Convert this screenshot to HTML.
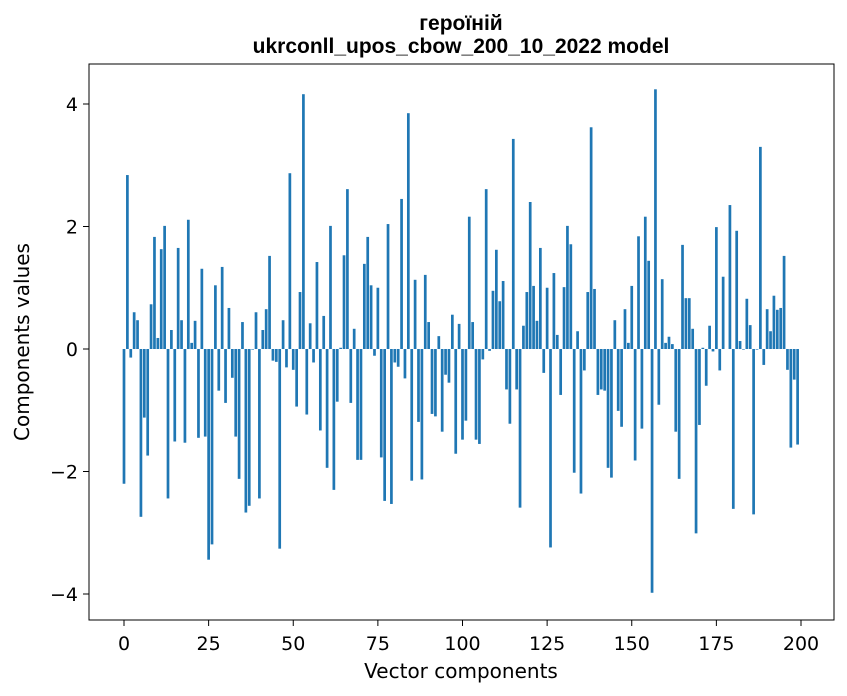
<!DOCTYPE html>
<html><head><meta charset="utf-8"><style>
html,body{margin:0;padding:0;background:#fff;}
svg{display:block;font-family:"DejaVu Sans","Liberation Sans",sans-serif;}
</style></head><body>
<svg id="chart" width="847" height="696" viewBox="0 0 847 696" xmlns="http://www.w3.org/2000/svg">
<rect x="0" y="0" width="847" height="696" fill="#fff"/>
<text x="461" y="30" text-anchor="middle" font-size="21" font-weight="bold" font-family="Liberation Sans, sans-serif">героїній</text>
<text x="461" y="53" text-anchor="middle" font-size="21" font-weight="bold" font-family="Liberation Sans, sans-serif">ukrconll_upos_cbow_200_10_2022 model</text>
<g id="bars"></g>
<g id="xaxis"></g>
<g id="yaxis"></g>
<rect x="89" y="64" width="745" height="556" fill="none" stroke="#000" stroke-width="1"/>
<text x="461" y="678" text-anchor="middle" font-size="20">Vector components</text>
<text transform="translate(29,342) rotate(-90)" text-anchor="middle" font-size="20">Components values</text>
</svg>
<script>
const values = [-2.20,2.84,-0.14,0.60,0.47,-2.74,-1.12,-1.74,0.73,1.83,
0.18,1.63,2.01,-2.44,0.31,-1.51,1.65,0.47,-1.53,2.11,
0.10,0.46,-1.45,1.31,-1.43,-3.44,-3.19,1.04,-0.68,1.34,
-0.88,0.67,-0.47,-1.43,-2.12,0.44,-2.67,-2.56,-0.01,0.60,
-2.44,0.31,0.65,1.52,-0.19,-0.21,-3.26,0.47,-0.30,2.87,
-0.34,-0.94,0.93,4.16,-1.07,0.42,-0.22,1.42,-1.33,0.54,
-1.94,2.01,-2.30,-0.86,0.02,1.53,2.61,-0.88,0.33,-1.81,
-1.81,1.39,1.83,1.04,-0.11,1.00,-1.77,-2.48,2.04,-2.53,
-0.22,-0.29,2.45,-0.48,3.85,-2.15,1.13,-1.19,-2.13,1.21,
0.44,-1.06,-1.10,0.21,-1.35,-0.42,-0.55,0.56,-1.71,0.41,
-1.48,-1.17,2.16,0.44,-1.48,-1.55,-0.17,2.61,-0.03,0.95,
1.62,0.78,1.11,-0.66,-1.22,3.43,-0.66,-2.59,0.38,0.93,
2.40,1.03,0.46,1.65,-0.39,1.00,-3.24,1.24,0.23,-0.75,
1.01,2.01,1.71,-2.02,0.29,-2.36,-0.35,0.93,3.62,0.98,
-0.75,-0.66,-0.68,-1.94,-2.10,0.47,-1.01,-1.27,0.65,0.10,
1.03,-1.82,1.84,-1.30,2.16,1.44,-3.98,4.24,-0.91,1.14,
0.10,0.20,0.08,-1.35,-2.12,1.70,0.83,0.83,0.33,-3.01,
-1.24,0.02,-0.60,0.38,-0.04,1.99,-0.35,1.18,0.00,2.35,
-2.61,1.93,0.13,-0.01,0.82,0.39,-2.70,-0.01,3.30,-0.26,
0.65,0.29,0.87,0.64,0.67,1.52,-0.34,-1.61,-0.50,-1.56];
const xTicks = [0,25,50,75,100,125,150,175,200];
const yTicks = [-4,-2,0,2,4];
const NS = "http://www.w3.org/2000/svg";
function xs(v){ return 124 + (801-124)*v/200; }
function ys(v){ return 349 - 61.25*v; }
const barsG = document.getElementById('bars');
const bw = 0.8*(xs(1)-xs(0));
values.forEach((v,i)=>{
  const r = document.createElementNS(NS,'rect');
  
  
  const y0 = ys(0), y1 = ys(v);
  r.setAttribute('x', xs(i)-bw/2);
  r.setAttribute('y', Math.min(y0,y1));
  r.setAttribute('width', bw);
  r.setAttribute('height', Math.max(Math.abs(y1-y0),0.01));
  r.setAttribute('fill', '#1f77b4');
  barsG.appendChild(r);
});
const xg = document.getElementById('xaxis');
xTicks.forEach(t=>{
  const l = document.createElementNS(NS,'line');
  
  
  l.setAttribute('x1', xs(t)); l.setAttribute('x2', xs(t));
  l.setAttribute('y1', 620); l.setAttribute('y2', 626);
  l.setAttribute('stroke', '#000');
  xg.appendChild(l);
  const tx = document.createElementNS(NS,'text');
  
  
  tx.setAttribute('x', xs(t)); tx.setAttribute('y', 650);
  tx.setAttribute('text-anchor', 'middle'); tx.setAttribute('font-size', '19');
  tx.textContent = t;
  xg.appendChild(tx);
});
const yg = document.getElementById('yaxis');
yTicks.forEach(t=>{
  const l = document.createElementNS(NS,'line');
  
  
  l.setAttribute('x1', 83); l.setAttribute('x2', 89);
  l.setAttribute('y1', ys(t)); l.setAttribute('y2', ys(t));
  l.setAttribute('stroke', '#000');
  yg.appendChild(l);
  const tx = document.createElementNS(NS,'text');
  
  
  tx.setAttribute('x', 78); tx.setAttribute('y', ys(t)+7);
  tx.setAttribute('text-anchor', 'end'); tx.setAttribute('font-size', '19');
  tx.textContent = t < 0 ? '\u2212' + Math.abs(t) : String(t);
  yg.appendChild(tx);
});
</script>
</body></html>
